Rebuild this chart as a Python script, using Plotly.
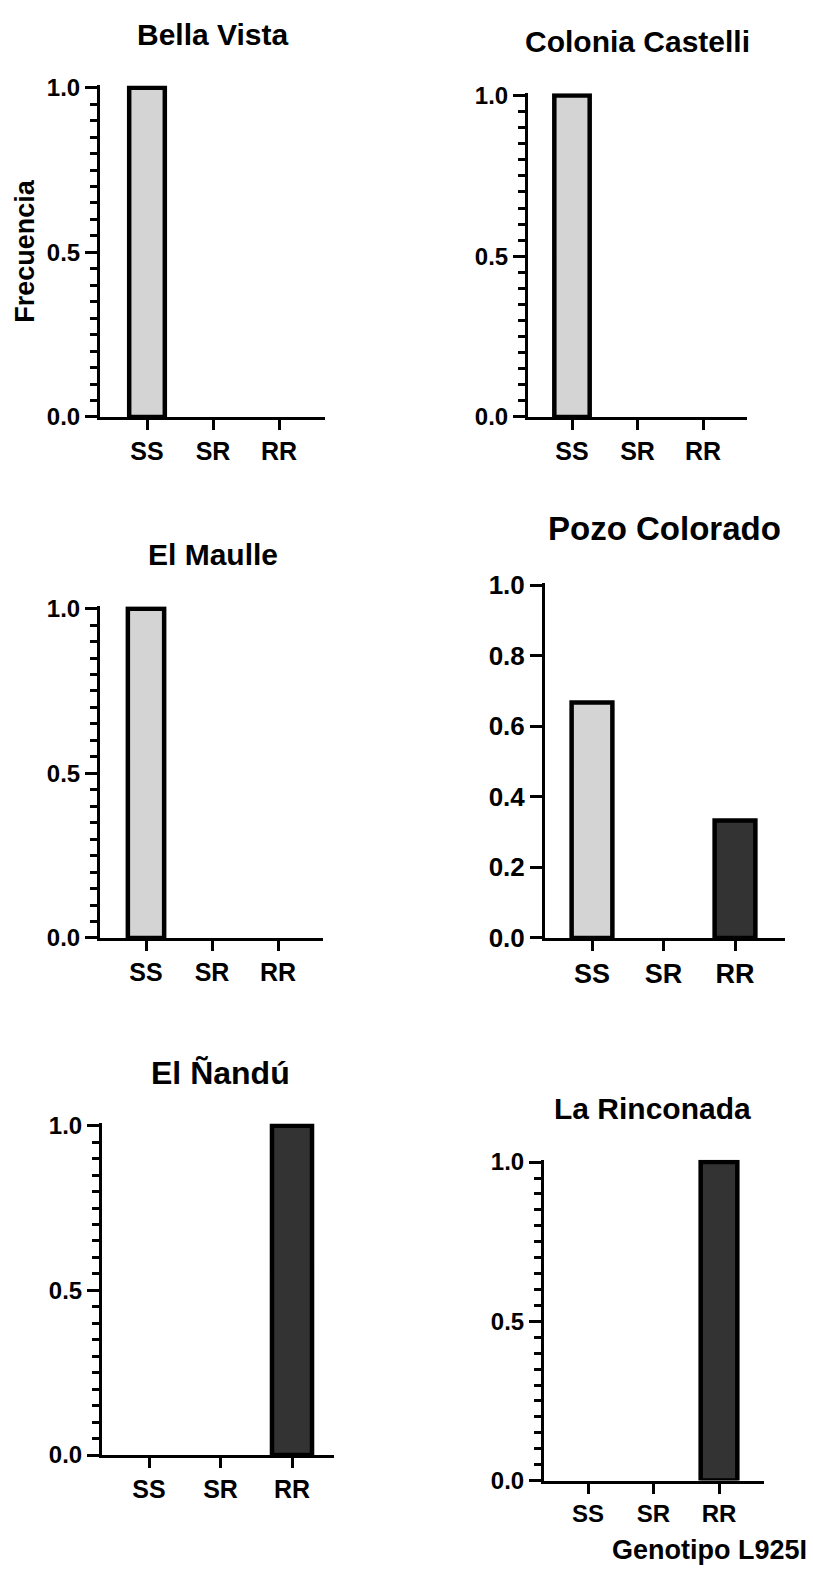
import plotly.graph_objects as go

# ---------------- data ----------------
genotypes = ["SS", "SR", "RR"]
sites = ["Bella Vista", "Colonia Castelli", "El Maulle", "Pozo Colorado", "El Ñandú", "La Rinconada"]
bella_vista = [1.0, 0.0, 0.0]
colonia_castelli = [1.0, 0.0, 0.0]
el_maulle = [1.0, 0.0, 0.0]
pozo_colorado = [0.667, 0.0, 0.333]
el_nandu = [0.0, 0.0, 1.0]
la_rinconada = [0.0, 0.0, 1.0]
series = [bella_vista, colonia_castelli, el_maulle, pozo_colorado, el_nandu, la_rinconada]
genotype_colors = ["#d4d4d4", "#888888", "#333333"]
y_label = "Frecuencia"
x_label = "Genotipo L925I"

# ---------------- layout geometry (pixels) ----------------
W, H = 813, 1586
FONT = "Liberation Sans, Arial, Helvetica, sans-serif"

# L, R: x-axis extent; c0: px of first category; s: category spacing;
# b: px of y=0; t: px of y=1; title centre & size; tick font sizes
panels = [
    dict(L=100, R=325, c0=147, s=66.0, b=412, t=77, tx=213, ty=23, tsz=30, ysz=24, xsz=25, dtick=0.5, minor=True, bw=0.54),
    dict(L=528, R=747, c0=572, s=65.5, b=412, t=85, tx=637, ty=30, tsz=30, ysz=24, xsz=25, dtick=0.5, minor=True, bw=0.54),
    dict(L=100, R=323, c0=146, s=66.0, b=942, t=607, tx=213, ty=552, tsz=30, ysz=24, xsz=25, dtick=0.5, minor=True, bw=0.55),
    dict(L=545, R=785, c0=592, s=71.5, b=942, t=583, tx=664, ty=525, tsz=33, ysz=26, xsz=27, dtick=0.2, minor=False, bw=0.57),
    dict(L=102, R=334, c0=149, s=71.5, b=1468, t=1133, tx=220, ty=1079, tsz=32, ysz=24, xsz=25, dtick=0.5, minor=True, bw=0.56),
    dict(L=544, R=764, c0=588, s=65.5, b=1494, t=1170, tx=652, ty=1115, tsz=30, ysz=24, xsz=24, dtick=0.5, minor=True, bw=0.56),
]

YMAX = 1.007

fig = go.Figure()
annotations = []
layout_axes = {}

for i, (p, site, vals) in enumerate(zip(panels, sites, series)):
    n = i + 1
    xa = "x" if n == 1 else f"x{n}"
    ya = "y" if n == 1 else f"y{n}"
    xkey = "xaxis" if n == 1 else f"xaxis{n}"
    ykey = "yaxis" if n == 1 else f"yaxis{n}"

    fig.add_trace(go.Bar(
        x=genotypes, y=vals, xaxis=xa, yaxis=ya, width=p["bw"],
        marker=dict(color=genotype_colors,
                    line=dict(color="black", width=[4.5 if v > 0 else 0 for v in vals])),
        showlegend=False, hoverinfo="skip",
    ))

    top_px = p["b"] - YMAX * (p["b"] - p["t"])
    xr = [(p["L"] - p["c0"]) / p["s"], (p["R"] - p["c0"]) / p["s"]]
    layout_axes[xkey] = dict(
        domain=[p["L"] / W, p["R"] / W], range=xr, anchor=ya,
        type="category", categoryorder="array", categoryarray=genotypes,
        showline=True, linecolor="black", linewidth=3,
        ticks="outside", ticklen=10, tickwidth=3, tickcolor="black",
        showgrid=False, zeroline=False, fixedrange=True,
        tickfont=dict(family=FONT, size=p["xsz"], color="black", weight="bold"),
    )
    yax = dict(
        domain=[1 - p["b"] / H, 1 - top_px / H], range=[0, YMAX], anchor=xa,
        showline=True, linecolor="black", linewidth=3,
        ticks="outside", ticklen=12, tickwidth=3, tickcolor="black",
        tick0=0, dtick=p["dtick"], tickformat=".1f",
        showgrid=False, zeroline=False, fixedrange=True,
        tickfont=dict(family=FONT, size=p["ysz"], color="black", weight="bold"),
    )
    if p["minor"]:
        yax["minor"] = dict(dtick=0.05, tick0=0, ticks="outside", ticklen=7,
                            tickwidth=3, tickcolor="black", showgrid=False)
    layout_axes[ykey] = yax

    annotations.append(dict(
        text=site, x=p["tx"] / W, y=1 - p["ty"] / H, xref="paper", yref="paper",
        xanchor="center", yanchor="middle", showarrow=False,
        font=dict(family=FONT, size=p["tsz"], color="black", weight="bold"),
    ))

annotations.append(dict(
    text=y_label, x=25 / W, y=1 - 243 / H, xref="paper", yref="paper",
    xanchor="center", yanchor="middle", showarrow=False, textangle=-90,
    font=dict(family=FONT, size=27, color="black", weight="bold"),
))
annotations.append(dict(
    text=x_label, x=809 / W, y=1 - 1565 / H, xref="paper", yref="paper",
    xanchor="right", yanchor="middle", showarrow=False,
    font=dict(family=FONT, size=27, color="black", weight="bold"),
))

fig.update_layout(
    width=W, height=H,
    margin=dict(l=0, r=0, t=0, b=0),
    paper_bgcolor="white", plot_bgcolor="white",
    annotations=annotations,
    **layout_axes,
)

fig.write_html("out.html", config={"displayModeBar": False, "responsive": False})
